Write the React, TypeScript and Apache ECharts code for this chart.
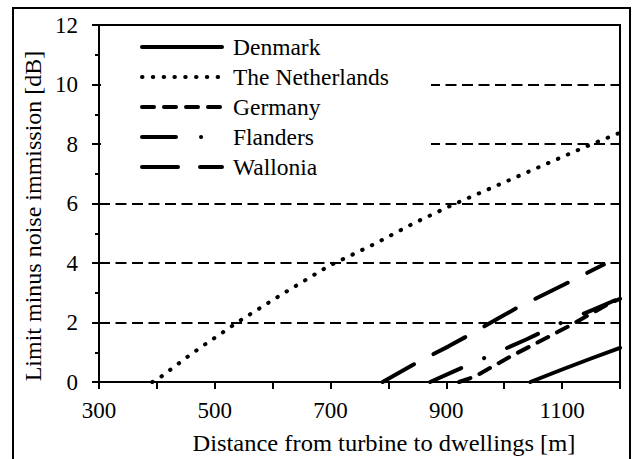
import React, { useEffect, useRef } from "react";
import * as echarts from "echarts";

const seriesNames = ["Denmark", "The Netherlands", "Germany", "Flanders", "Wallonia"];

const denmark = [[1045, 0], [1100, 0.42], [1150, 0.79], [1200, 1.15]];
const netherlands = [
  [392, 0], [406, 0.16], [451, 0.82], [480, 1.22], [526, 1.83], [541, 2.03],
  [617, 2.96], [697, 3.9], [778, 4.66], [843, 5.33], [908, 5.93], [1042, 7.07],
  [1143, 7.93], [1200, 8.38],
];
const germany = [[922, 0], [949, 0.18], [1010, 0.85], [1044, 1.19], [1110, 1.86], [1177, 2.59], [1200, 2.8]];
const flanders = [[872, 0], [912, 0.35], [973, 0.87], [1038, 1.43], [1096, 1.97], [1150, 2.4], [1200, 2.82]];
const wallonia = [[790, 0], [850, 0.66], [903, 1.19], [932, 1.5], [990, 2.14], [1021, 2.48], [1108, 3.32], [1172, 3.95]];

const xLabels = [300, 500, 700, 900, 1100];
const xTitle = "Distance from turbine to dwellings [m]";
const yTitle = "Limit minus noise immission [dB]";

const FONT = "'Liberation Serif', 'Times New Roman', serif";

export default function App() {
  const ref = useRef<HTMLDivElement>(null);
  useEffect(() => {
    if (!ref.current) return;
    const chart = echarts.init(ref.current, undefined, { renderer: "svg" });
    const dashes: any[] = ["solid", [0.5, 10.3], [12, 10], [34, 25, 0.1, 25], [36, 22]];
    const datas = [denmark, netherlands, germany, flanders, wallonia];
    chart.setOption({
      animation: false,
      backgroundColor: "#fff",
      textStyle: { fontFamily: FONT },
      grid: {
        left: 99, top: 25, right: 12, bottom: 77,
        show: true, borderColor: "#000", borderWidth: 2, backgroundColor: "transparent",
      },
      xAxis: {
        type: "value", min: 300, max: 1200, interval: 100,
        axisLine: { show: true, lineStyle: { color: "#000", width: 2 } },
        axisTick: { show: true, inside: false, length: 7, lineStyle: { color: "#000", width: 2 } },
        axisLabel: {
          margin: 17, color: "#000", fontFamily: FONT, fontSize: 23,
          formatter: (v: number) => (xLabels.indexOf(v) >= 0 ? String(v) : ""),
        },
        splitLine: { show: false },
      },
      yAxis: {
        type: "value", min: 0, max: 12, interval: 2,
        axisLine: { show: true, lineStyle: { color: "#000", width: 2 } },
        axisTick: { show: true, inside: false, length: 7, lineStyle: { color: "#000", width: 2 } },
        minorTick: { show: true, splitNumber: 2, length: 4, lineStyle: { color: "#000", width: 2 } },
        axisLabel: { margin: 21, color: "#000", fontFamily: FONT, fontSize: 23 },
        splitLine: { show: true, lineStyle: { color: "#000", width: 2, type: [11, 5.5] } },
      },
      legend: {
        orient: "vertical", left: 140, top: 35, padding: 0,
        itemWidth: 80, itemHeight: 24, itemGap: 6,
        selectedMode: false,
        data: seriesNames,
        lineStyle: { width: 4 },
        itemStyle: { opacity: 0 },
        textStyle: { fontFamily: FONT, fontSize: 23.5, color: "#000", lineHeight: 24, padding: [0, 0, 0, 6] },
      },
      graphic: [
        {
          type: "rect", z: 1, silent: true,
          shape: { x: 101, y: 27, width: 330, height: 163 },
          style: { fill: "#fff", stroke: "none" },
        },
        {
          type: "rect", z: 10, silent: true,
          shape: { x: 13, y: 8, width: 617, height: 480 },
          style: { fill: "none", stroke: "#000", lineWidth: 2 },
        },
        {
          type: "text", z: 10, silent: true, x: 384, y: 443, scaleY: 0.92,
          style: {
            text: xTitle, fontFamily: FONT, fontSize: 24.5, fill: "#000",
            align: "center", verticalAlign: "middle", textAlign: "center", textVerticalAlign: "middle",
          },
        },
        {
          type: "text", z: 10, silent: true, x: 33, y: 216, rotation: Math.PI / 2,
          style: {
            text: yTitle, fontFamily: FONT, fontSize: 24, fill: "#000",
            align: "center", verticalAlign: "middle", textAlign: "center", textVerticalAlign: "middle",
          },
        },
      ],
      series: seriesNames.map((name, i) => ({
        name,
        type: "line",
        data: datas[i],
        symbol: "none",
        showSymbol: false,
        z: 3,
        lineStyle: { color: "#000", width: 4, type: dashes[i], cap: "round", join: "round" },
        itemStyle: { color: "#000" },
      })),
    });
    return () => chart.dispose();
  }, []);
  return (
    <div
      ref={ref}
      style={{ position: "fixed", left: 0, top: 0, width: 632, height: 459, background: "#fff" }}
    />
  );
}
